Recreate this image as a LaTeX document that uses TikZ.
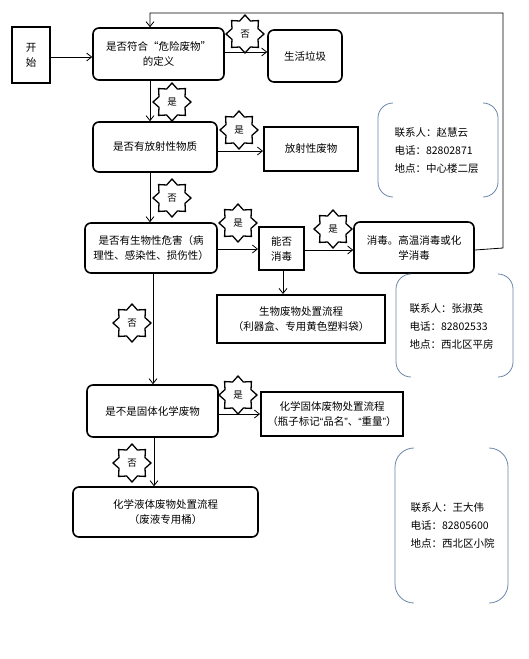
\documentclass[tikz,border=0pt]{standalone}
\usepackage{fontspec}
\usepackage{tikz}
\usetikzlibrary{arrows.meta,shapes.geometric}
\newfontfamily\cjk{Noto Sans CJK SC}
\newfontfamily\latinq{Liberation Sans}
\definecolor{BracketBlue}{HTML}{6A86A6}

\tikzset{
  roundbox/.style={draw, line width=1.6pt, rounded corners=6pt, align=center, inner sep=2pt},
  plainbox/.style={draw, line width=2pt, align=center, inner sep=2pt},
  starmark/.style={draw, fill=white, line width=1.3pt, star, star points=8, star point ratio=1.35,
    minimum size=38pt, inner sep=0pt, font=\cjk\fontsize{9.5}{11}\selectfont},
  flow/.style={-{Straight Barb[length=5pt,width=8pt]}, line width=0.8pt},
  contact/.style={anchor=west, align=left, font=\cjk\fontsize{10.5}{18}\selectfont},
  bracketline/.style={draw=BracketBlue, line width=0.8pt, rounded corners=15pt}
}
\newcommand{\narrowq}[1]{{\latinq #1}}

\begin{document}
\begin{tikzpicture}[x=1pt, y=-1pt, every node/.style={font=\cjk\fontsize{10.5}{15}\selectfont}]
  \useasboundingbox (0,0) rectangle (529,659);

  % main column
  \node[plainbox, line width=2.4pt, minimum width=38pt, minimum height=56pt] (start) at (31,55) {开\\始};
  \node[roundbox, minimum width=131pt, minimum height=52pt] (q1) at (158.5,54) {是否符合“危险废物”\\的定义};
  \node[roundbox, minimum width=74pt, minimum height=52pt] (trash) at (305,56) {生活垃圾};
  \node[roundbox, minimum width=124pt, minimum height=50pt] (q2) at (155,147) {是否有放射性物质};
  \node[plainbox, minimum width=94pt, minimum height=44pt] (radio) at (311,149) {放射性废物};
  \node[roundbox, minimum width=132pt, minimum height=50pt] (q3) at (151,248) {是否有生物性危害（病\\理性、感染性、损伤性）};
  \node[plainbox, minimum width=45pt, minimum height=43pt] (disinf) at (281.5,248.5) {能否\\消毒};
  \node[roundbox, minimum width=120pt, minimum height=51pt] (heat) at (414,247.5) {消毒。高温消毒或化\\学消毒};
  \node[plainbox, minimum width=168pt, minimum height=48pt] (bio) at (301,319) {生物废物处置流程\\（利器盒、专用黄色塑料袋）};
  \node[roundbox, minimum width=131pt, minimum height=52pt] (q4) at (152.5,411) {是不是固体化学废物};
  \node[plainbox, minimum width=142pt, minimum height=44pt] (solid) at (332,414) {化学固体废物处置流程\\（瓶子标记\narrowq{“}品名\narrowq{”}、\narrowq{“}重量\narrowq{”}）};
  \node[roundbox, minimum width=185pt, minimum height=50pt] (liquid) at (165.5,512) {化学液体废物处置流程\\（废液专用桶）};

  % connectors
  \coordinate (loopdown) at (503,248);
  \coordinate (loopup) at (503,13);
  \coordinate (loopleft) at (150,13);
  \draw[flow] (start.east |- 0,57) -- (q1.west |- 0,57);
  \draw[flow] (q1.east |- 0,52) -- (trash.west |- 0,52);
  \draw[flow] (q1.south -| 150,0) -- (q2.north -| 150,0);
  \draw[flow] (q2.east |- 0,151) -- (radio.west |- 0,151);
  \draw[flow] (q2.south -| 150,0) -- (q3.north -| 150,0);
  \draw[flow] (q3.east |- 0,249) -- (disinf.west |- 0,249);
  \draw[flow] (disinf.east |- 0,250) -- (heat.west |- 0,250);
  \draw[flow] (heat.east |- 0,250) -- (loopdown) -- (loopup) -- (loopleft) -- (q1.north -| loopleft);
  \draw[flow] (disinf.south -| 283,0) -- (bio.north -| 283,0);
  \draw[flow] (q3.south -| 153,0) -- (q4.north -| 153,0);
  \draw[flow] (q4.east |- 0,414) -- (solid.west |- 0,414);
  \draw[flow] (q4.south -| 154,0) -- (liquid.north -| 154,0);

  % yes / no marks
  \node[starmark] (s1) at (245,34) {否};
  \node[starmark] (s2) at (172,102) {是};
  \node[starmark] (s3) at (239,130) {是};
  \node[starmark] (s4) at (172,198) {否};
  \node[starmark] (s5) at (238,223) {是};
  \node[starmark] (s6) at (333,229) {是};
  \node[starmark] (s7) at (132,323) {否};
  \node[starmark] (s8) at (238,395) {是};
  \node[starmark] (s9) at (132,463) {否};

  % contacts
  \node[contact] (contactA) at (391,151) {联系人：赵慧云\\电话：82802871\\地点：中心楼二层};
  \draw[bracketline] (393,103) -- (378,103) -- (378,197) -- (393,197);
  \draw[bracketline] (483,103) -- (498,103) -- (498,197) -- (483,197);
  \node[contact] (contactB) at (406,326) {联系人：张淑英\\电话：82802533\\地点：西北区平房};
  \draw[bracketline] (411,274) -- (396,274) -- (396,377) -- (411,377);
  \draw[bracketline] (498,274) -- (513,274) -- (513,377) -- (498,377);
  \node[contact] (contactC) at (407,526) {联系人：王大伟\\电话：82805600\\地点：西北区小院};
  \draw[bracketline, rounded corners=19pt] (414,448) -- (395,448) -- (395,603) -- (414,603);
  \draw[bracketline, rounded corners=19pt] (489,448) -- (508,448) -- (508,603) -- (489,603);
\end{tikzpicture}
\end{document}
